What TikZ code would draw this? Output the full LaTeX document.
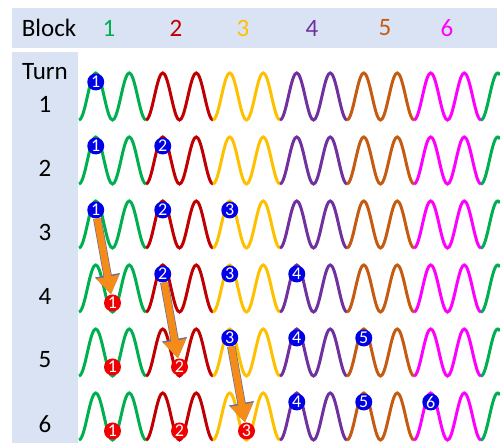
\documentclass[tikz,border=0pt]{standalone}
\usepackage{fontspec}
\setmainfont{Carlito}
\usepackage{tikz}
\usetikzlibrary{arrows.meta}
\definecolor{BandBlue}{RGB}{218,227,243}
\definecolor{BlockGreen}{RGB}{0,176,80}
\definecolor{BlockRed}{RGB}{192,0,0}
\definecolor{BlockYellow}{RGB}{255,192,0}
\definecolor{BlockPurple}{RGB}{112,48,160}
\definecolor{BlockBrown}{RGB}{197,90,17}
\definecolor{BlockMagenta}{RGB}{255,0,255}
\definecolor{DotBlue}{RGB}{0,0,230}
\definecolor{DotRed}{RGB}{240,0,0}
\definecolor{ArrowOrange}{RGB}{245,140,25}
\definecolor{ArrowEdge}{RGB}{110,110,150}

\begin{document}
\begin{tikzpicture}[x=1pt,y=1pt,>=Latex,
  label/.style={font=\fontsize{25}{29}\selectfont},
  wave/.style={line width=3pt},
  bluedot/.style={circle,fill=DotBlue,text=white,inner sep=0pt,minimum size=17pt,font=\fontsize{18}{18}\selectfont},
  reddot/.style={bluedot,fill=DotRed},
  fatarrow/.style={preaction={draw=ArrowEdge,line width=8.4pt,-{Triangle[length=19.5pt,width=24pt]}},
    draw=ArrowOrange,line width=7pt,-{Triangle[length=18pt,width=22pt]}}]
  \useasboundingbox (0,0) rectangle (500,443);
  % bands
  \fill[BandBlue] (12,395) rectangle (497,435);
  \fill[BandBlue] (12,0) rectangle (78,391);
  \node[label] (block) at (49,415) {Block};
  \foreach \n/\px/\c in {1/109/BlockGreen,2/176/BlockRed,3/243/BlockYellow,4/312/BlockPurple,5/385/BlockBrown,6/447/BlockMagenta}
    \node[label,text=\c] (head\n) at (\px,415) {\n};
  \node[label] (turn) at (45,371) {Turn};
  \foreach \k in {1,...,6}
    \node[label] (turn\k) at (45,{339-64*(\k-1)}) {\k};
  % waves
  \foreach \k in {1,...,6}{
    \pgfmathsetmacro\rowy{346.5-64*(\k-1)}
    \foreach \j/\c in {0/BlockGreen,1/BlockRed,2/BlockYellow,3/BlockPurple,4/BlockBrown,5/BlockMagenta,6/BlockGreen}{
      \pgfmathsetmacro\xa{79+67*\j}
      \pgfmathsetmacro\xb{min(79+67*(\j+1),500)}
      \draw[wave,\c] plot[domain=\xa:\xb,samples=41,smooth] (\x,{\rowy-23.5*cos((\x-79)/33.5*360)});
    }
  }
  % markers
  \foreach \k in {1,...,6}{
    \pgfmathsetmacro\rowy{346.5-64*(\k-1)}
    \pgfmathtruncatemacro\jlo{max(1,\k-2)}
    \pgfmathtruncatemacro\jhi{\k-3}
    \foreach \j in {\jlo,...,\k}
      \node[bluedot] (b\j-\k) at ({95.75+67*(\j-1)},{\rowy+14.5}) {\j};
    \ifnum\jhi>0
      \foreach \j in {1,...,\jhi}
        \node[reddot] (r\j-\k) at ({112.5+67*(\j-1)},{\rowy-14.5}) {\j};
    \fi
  }
  % moves
  \draw[fatarrow] (b1-3) -- (r1-4);
  \draw[fatarrow] (b2-4) -- (r2-5);
  \draw[fatarrow] (b3-5) -- (r3-6);
\end{tikzpicture}
\end{document}
